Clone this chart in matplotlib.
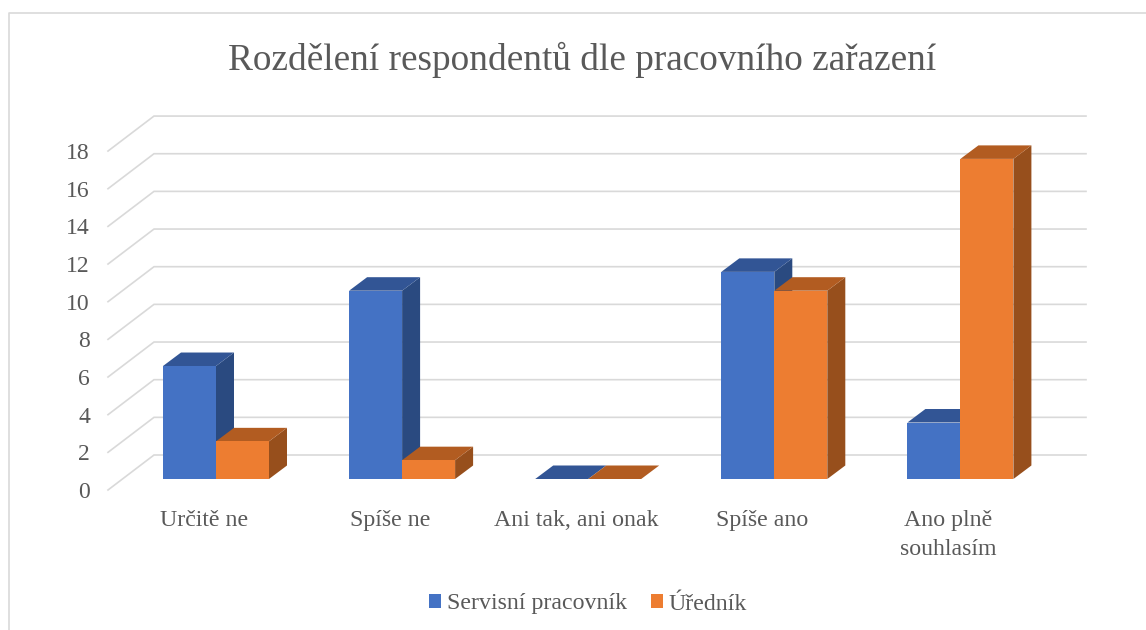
import numpy as np
import matplotlib.pyplot as plt
from matplotlib.lines import Line2D
from matplotlib.patches import Polygon
from matplotlib.transforms import ScaledTranslation

categories = ["Určitě ne", "Spíše ne", "Ani tak, ani onak", "Spíše ano", "Ano plně\nsouhlasím"]
servisni = [6, 10, 0, 11, 3]
urednik = [2, 1, 0, 10, 17]
y_ticks = list(range(0, 20, 2))

W, H = 1146, 630
px_unit = 18.83  # pixels per one value on the y axis
px_cat = 186.1   # pixels between categories

plt.rcParams["font.family"] = ["Liberation Serif", "DejaVu Serif"]
text_color = "#595959"
grid_color = "#d9d9d9"

fig = plt.figure(figsize=(W / 100, H / 100), dpi=100)
ax = fig.add_axes([108 / W, (H - 479) / H, (1086 - 108) / W, 18 * px_unit / H])
ax.set_xlim((108 - 216) / px_cat, (1086 - 216) / px_cat)
ax.set_ylim(0, 18)
for s in ax.spines.values():
    s.set_visible(False)

# depth of the fake 3D look, in data units
dx = 18 / px_cat
dy = 13.5 / px_unit
bar_w = 53 / px_cat
x = np.arange(len(categories))

# gridlines on the side and back wall
left, right = ax.get_xlim()
back_x = (154 - 216) / px_cat
for v in y_ticks:
    ax.plot([left, back_x, right], [v - 11 / px_unit, v + 24 / px_unit, v + 24 / px_unit],
            color=grid_color, lw=1.2, clip_on=False, zorder=1, solid_joinstyle="miter")


def draw_bars(xs, values, front, top, side, z):
    for xi, v in zip(xs, values):
        x0, x1 = xi - bar_w / 2, xi + bar_w / 2
        ax.add_patch(Polygon([(x1, 0), (x1 + dx, dy), (x1 + dx, v + dy), (x1, v)],
                             facecolor=side, edgecolor="none", clip_on=False, zorder=z))
        ax.add_patch(Polygon([(x0, v), (x1, v), (x1 + dx, v + dy), (x0 + dx, v + dy)],
                             facecolor=top, edgecolor="none", clip_on=False, zorder=z))
    return ax.bar(xs, values, bar_w, color=front, clip_on=False, zorder=z + 0.5)


b1 = draw_bars(x - bar_w / 2, servisni, "#4472c4", "#325595", "#2a4a80", 2)
b2 = draw_bars(x + bar_w / 2, urednik, "#ed7d31", "#b25c21", "#974f1c", 3)

ax.set_yticks(y_ticks)
ax.set_yticklabels([str(v) for v in y_ticks], fontsize=17, color=text_color)
ax.tick_params(axis="y", length=0, pad=13)
for lab in ax.get_yticklabels():
    lab.set_transform(lab.get_transform() + ScaledTranslation(0, -11 / 100, fig.dpi_scale_trans))

ax.set_xticks(x - 12 / px_cat)
ax.set_xticklabels(categories, fontsize=17.2, color=text_color, linespacing=1.55)
ax.tick_params(axis="x", length=0, pad=22)

fig.text(582 / W, (H - 60) / H, "Rozdělení respondentů dle pracovního zařazení",
         fontsize=26.8, color=text_color, ha="center", va="center")

leg = fig.legend([b1, b2], ["Servisní pracovník", "Úředník"], loc="center",
                 bbox_to_anchor=(588 / W, (H - 604) / H), ncol=2, frameon=False,
                 fontsize=17.2, labelcolor=text_color, handlelength=0.5, handleheight=0.5,
                 handletextpad=0.25, columnspacing=1.0)

# chart frame, only left and top edges are in the picture
fig.add_artist(Line2D([8.5 / W, 8.5 / W, 1], [0, (H - 12.5) / H, (H - 12.5) / H],
                      color=grid_color, lw=1.2))

fig.savefig("out.png", dpi=100)
